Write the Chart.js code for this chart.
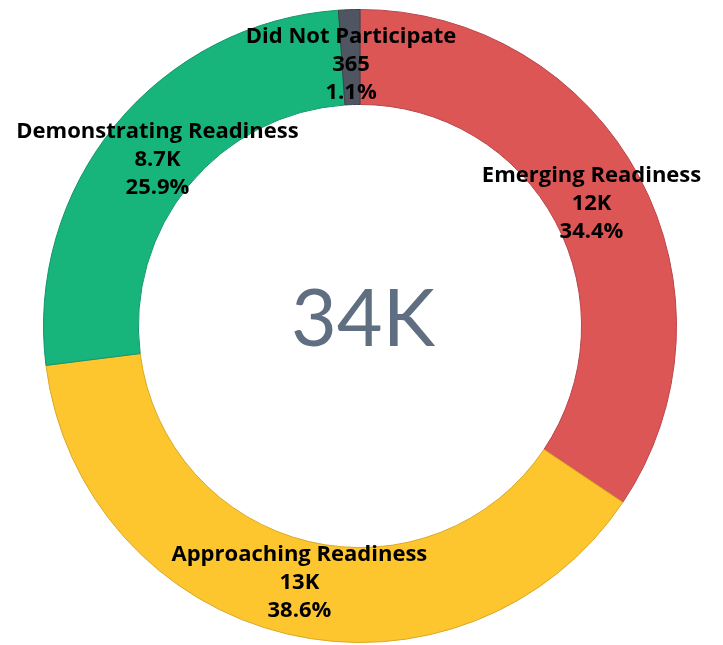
<!DOCTYPE html>
<html>
<head>
<meta charset="utf-8">
<script src="https://cdn.jsdelivr.net/npm/chart.js@4.4.1/dist/chart.umd.min.js"></script>
<style>
    html, body { margin: 0; padding: 0; background: #fff; }
    #wrap { width: 723px; height: 645px; }
</style>
</head>
<body>
<div id="wrap"><canvas id="readinessChart" width="723" height="645"></canvas></div>
<script>
const categories = ['Emerging Readiness', 'Approaching Readiness', 'Demonstrating Readiness', 'Did Not Participate'];
const studentCounts = [11593, 13008, 8728, 365];
const countLabels = ['12K', '13K', '8.7K', '365'];
const totalLabel = '34K';
const sliceColors = ['#dc5656', '#fec62e', '#17b47b', '#4f5662'];
const sliceBorders = ['#b9454a', '#d9a826', '#12956a', '#3c424c'];

// draws the three-line label inside each slice
const sliceLabels = {
    id: 'sliceLabels',
    afterDatasetsDraw(chart) {
        const ctx = chart.ctx;
        const meta = chart.getDatasetMeta(0);
        const total = studentCounts.reduce((a, b) => a + b, 0);
        ctx.save();
        ctx.fillStyle = '#000';
        ctx.textAlign = 'center';
        ctx.textBaseline = 'middle';
        ctx.font = 'bold 22px "Open Sans"';
        meta.data.forEach((arc, i) => {
            const p = arc.getProps(['x', 'y', 'startAngle', 'endAngle', 'innerRadius', 'outerRadius'], true);
            const mid = (p.startAngle + p.endAngle) / 2;
            const r = p.innerRadius + (p.outerRadius - p.innerRadius) * 0.43;
            const cx = p.x + Math.cos(mid) * r;
            const cy = p.y + Math.sin(mid) * r + 1;
            const pct = (studentCounts[i] / total * 100).toFixed(1) + '%';
            ctx.fillText(categories[i], cx, cy - 28);
            ctx.fillText(countLabels[i], cx, cy);
            ctx.fillText(pct, cx, cy + 28);
        });
        ctx.restore();
    }
};

const centerTotal = {
    id: 'centerTotal',
    afterDatasetsDraw(chart) {
        const ctx = chart.ctx;
        const arc = chart.getDatasetMeta(0).data[0];
        ctx.save();
        ctx.fillStyle = '#5f6e80';
        ctx.textAlign = 'center';
        ctx.textBaseline = 'middle';
        ctx.font = '400 79px Lato';
        ctx.fillText(totalLabel, arc.x + 3, arc.y - 5);
        ctx.restore();
    }
};

new Chart(document.getElementById('readinessChart').getContext('2d'), {
    type: 'doughnut',
    data: {
        labels: categories,
        datasets: [{
            data: studentCounts,
            backgroundColor: sliceColors,
            borderColor: sliceBorders,
            borderWidth: 1
        }]
    },
    options: {
        responsive: false,
        animation: false,
        cutout: '70%',
        layout: { padding: { top: 9, bottom: 2, left: 0, right: 3 } },
        plugins: {
            legend: { display: false },
            tooltip: { enabled: false }
        }
    },
    plugins: [sliceLabels, centerTotal]
});
</script>
</body>
</html>
